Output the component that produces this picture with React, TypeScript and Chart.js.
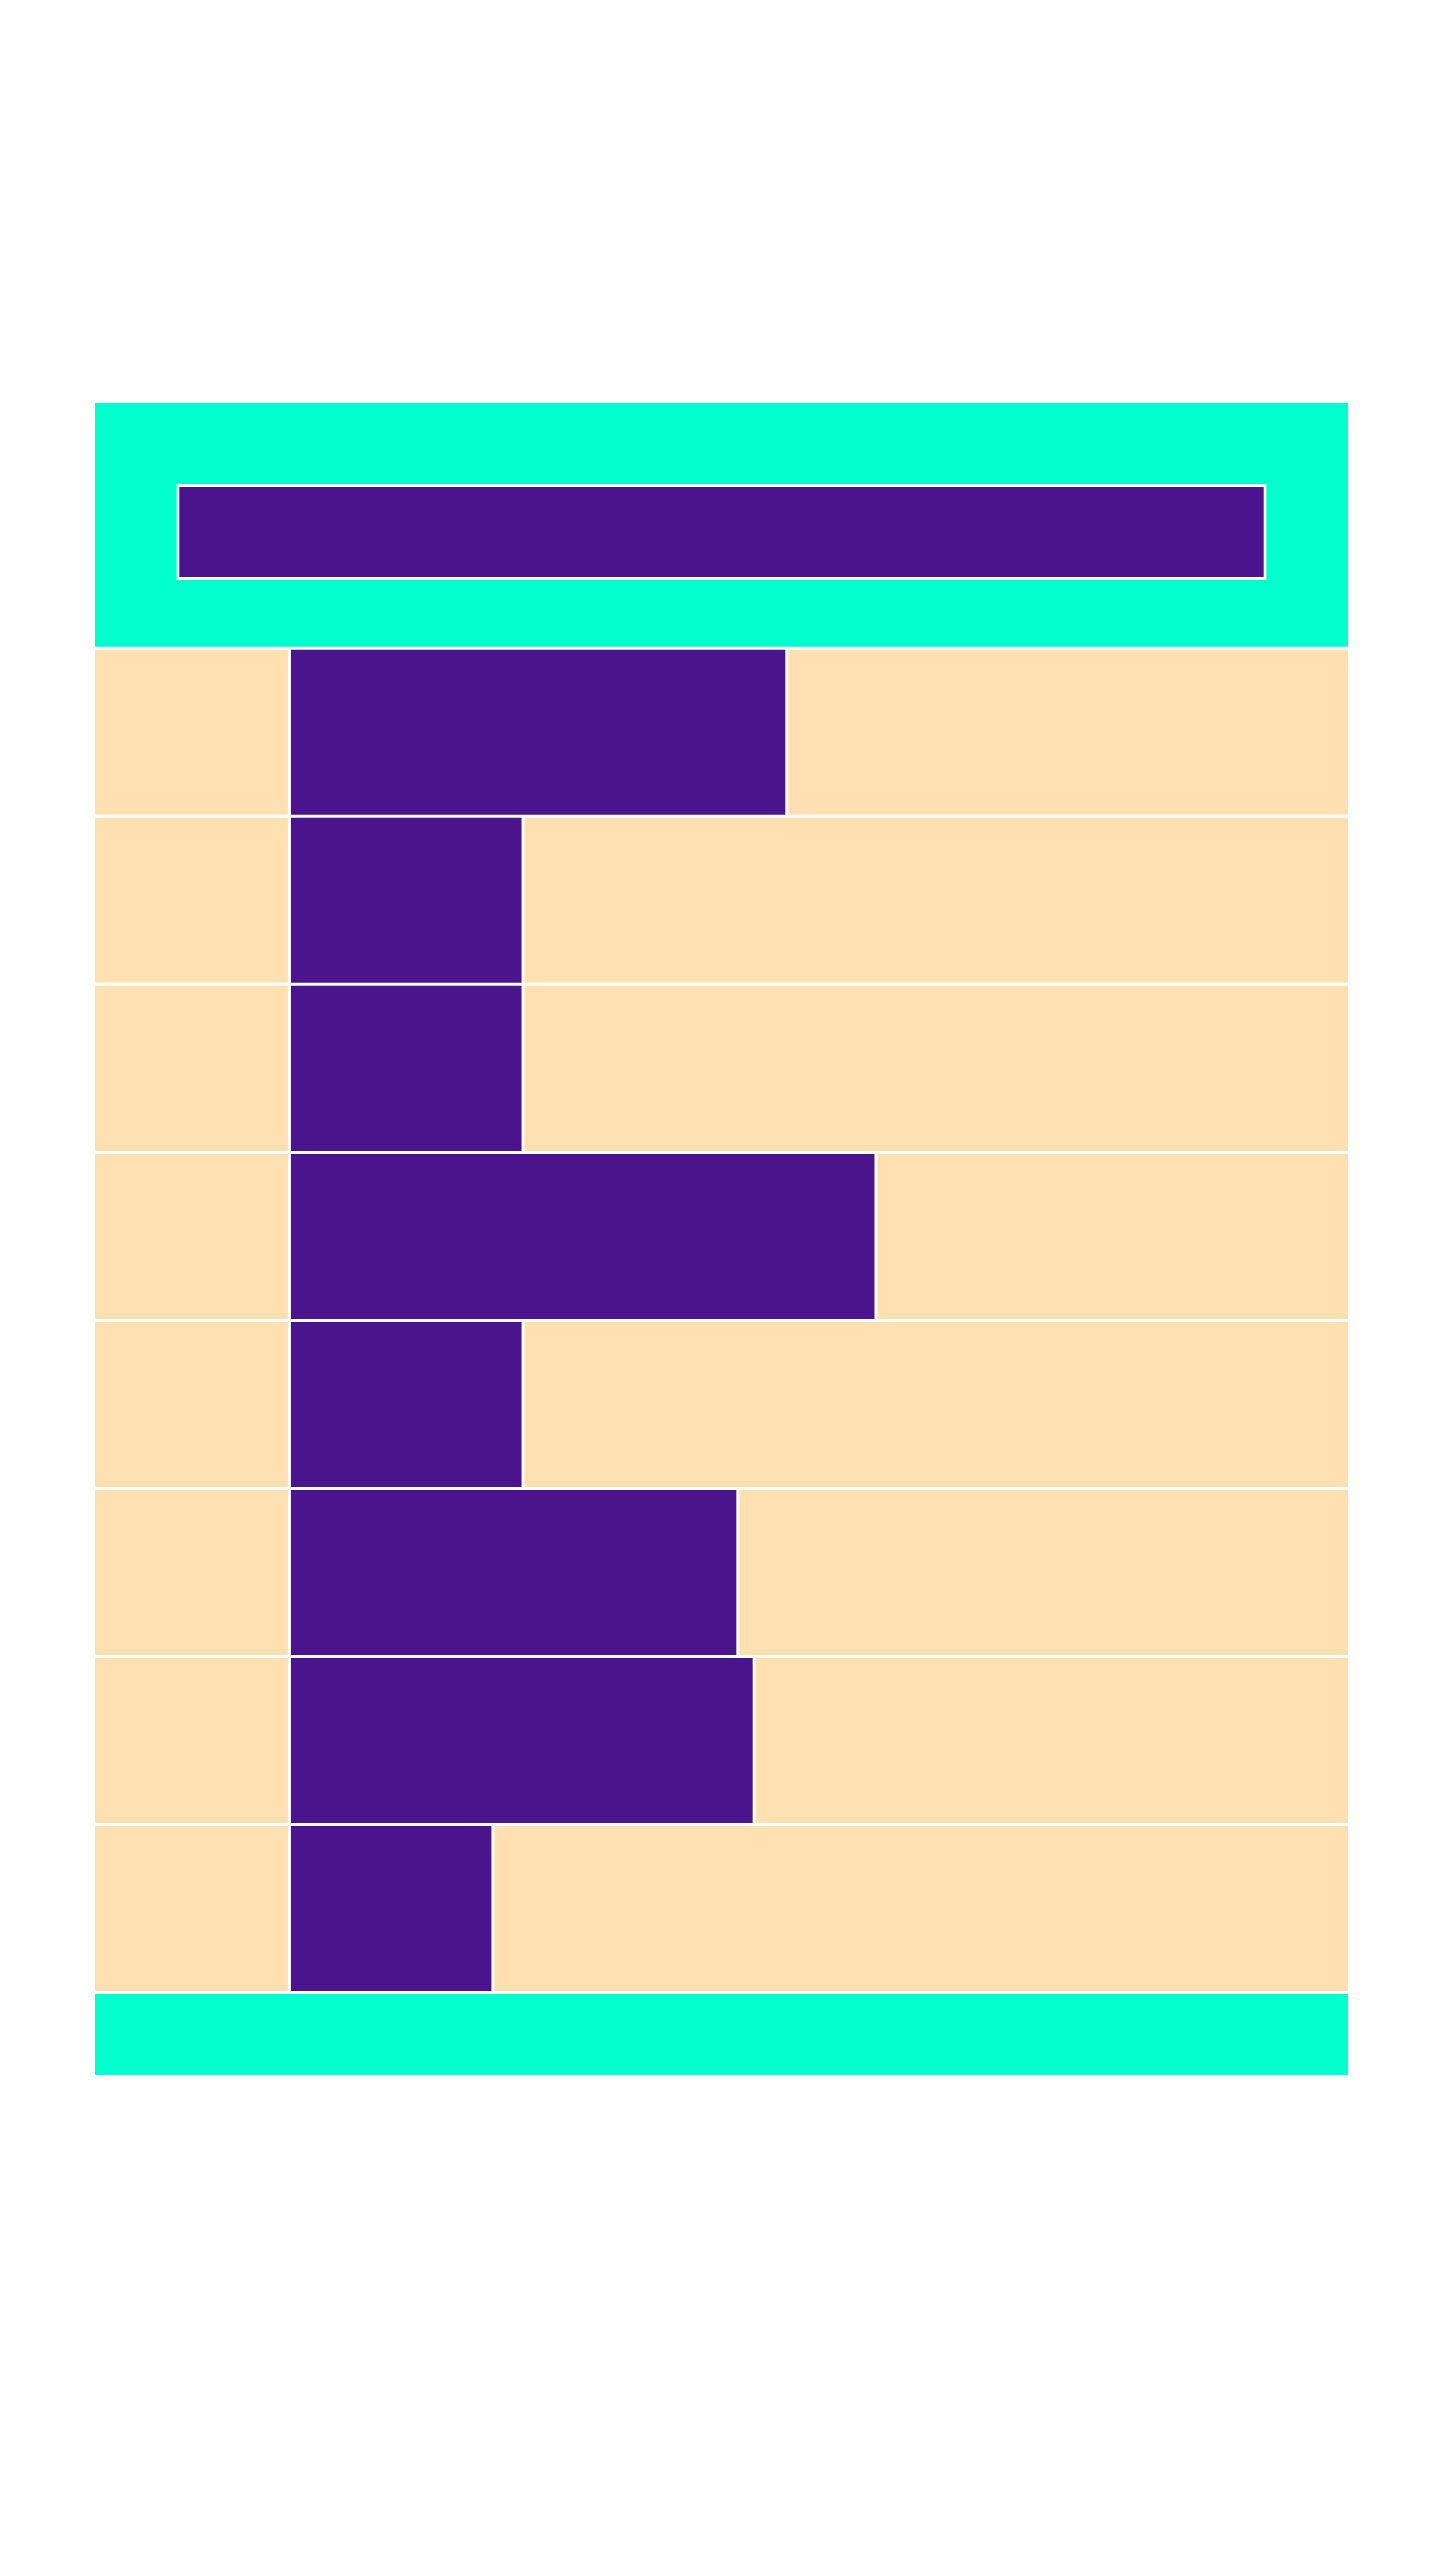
import { useEffect, useRef } from 'react';
import { Chart, registerables } from 'chart.js';

Chart.register(...registerables);

// ---- data (x values in % of the full width) ----
const rowLabels = ['Row 1', 'Row 2', 'Row 3', 'Row 4', 'Row 5', 'Row 6', 'Row 7', 'Row 8'];
const rowIndex = [1, 2, 3, 4, 5, 6, 7, 8];
const spanStart = [15.6, 15.6, 15.6, 15.6, 15.6, 15.6, 15.6, 15.6];
const spanEnd = [55.2, 34.2, 34.2, 62.3, 34.2, 51.3, 52.6, 31.8];
const headerSpan = [6.6, 93.4];
const fullSpan = [0, 100];

// ---- layout / style ----
const CYAN = '#00FFCC';
const PURPLE = '#4A148C';
const PEACH = '#FFE0B2';
const WHITE = '#FFFFFF';

const CANVAS_W = 1424;
const CANVAS_H = 2090;
const PAD = { left: 85.5, right: 82.5, top: 393.5, bottom: 21.5 };
const Y_MIN = -0.969;
const Y_MAX = 9;
const PX_PER_UNIT = (CANVAS_H - PAD.top - PAD.bottom) / (Y_MAX - Y_MIN);

const TOP_BLOCK_CENTER = (Y_MIN + 0.5) / 2;
const TOP_BLOCK_SPAN = 0.5 - Y_MIN;
const HEADER_CENTER = -0.192;
const HEADER_SPAN = 0.5714;
const BOTTOM_BLOCK_CENTER = (8.5 + Y_MAX) / 2;
const BOTTOM_BLOCK_SPAN = Y_MAX - 8.5;

export default function App() {
  const ref = useRef<HTMLCanvasElement | null>(null);

  useEffect(() => {
    if (!ref.current) return;
    const common = {
      borderColor: WHITE,
      borderSkipped: false,
      grouped: false,
      inflateAmount: 0,
    };
    const chart = new Chart(ref.current, {
      type: 'bar',
      data: {
        labels: rowLabels,
        datasets: [
          { ...common, label: 'header', order: 0, data: [{ x: headerSpan, y: HEADER_CENTER }], backgroundColor: PURPLE, borderWidth: 3, barThickness: HEADER_SPAN * PX_PER_UNIT },
          { ...common, label: 'top', order: 1, data: [{ x: fullSpan, y: TOP_BLOCK_CENTER }], backgroundColor: CYAN, borderWidth: 1.5, barThickness: TOP_BLOCK_SPAN * PX_PER_UNIT },
          { ...common, label: 'bottom', order: 1, data: [{ x: fullSpan, y: BOTTOM_BLOCK_CENTER }], backgroundColor: CYAN, borderWidth: 1.5, barThickness: BOTTOM_BLOCK_SPAN * PX_PER_UNIT },
          { ...common, label: 'before', order: 1, data: rowIndex.map((y, i) => ({ x: [0, spanStart[i]], y })), backgroundColor: PEACH, borderWidth: 1.5, barThickness: PX_PER_UNIT },
          { ...common, label: 'span', order: 1, data: rowIndex.map((y, i) => ({ x: [spanStart[i], spanEnd[i]], y })), backgroundColor: PURPLE, borderWidth: 1.5, barThickness: PX_PER_UNIT },
          { ...common, label: 'after', order: 1, data: rowIndex.map((y, i) => ({ x: [spanEnd[i], 100], y })), backgroundColor: PEACH, borderWidth: 1.5, barThickness: PX_PER_UNIT },
        ] as any,
      },
      options: {
        indexAxis: 'y',
        animation: false,
        responsive: false,
        devicePixelRatio: 1,
        events: [],
        layout: { padding: PAD },
        plugins: { legend: { display: false }, tooltip: { enabled: false }, title: { display: false } },
        scales: {
          x: { type: 'linear', min: 0, max: 100, offset: false, display: false },
          y: { type: 'linear', min: Y_MIN, max: Y_MAX, reverse: true, offset: false, display: false },
        },
      } as any,
    });
    return () => chart.destroy();
  }, []);

  return (
    <div style={{ width: CANVAS_W, height: CANVAS_H }}>
      <canvas ref={ref} width={CANVAS_W} height={CANVAS_H} style={{ display: 'block', width: CANVAS_W, height: CANVAS_H }} />
    </div>
  );
}
